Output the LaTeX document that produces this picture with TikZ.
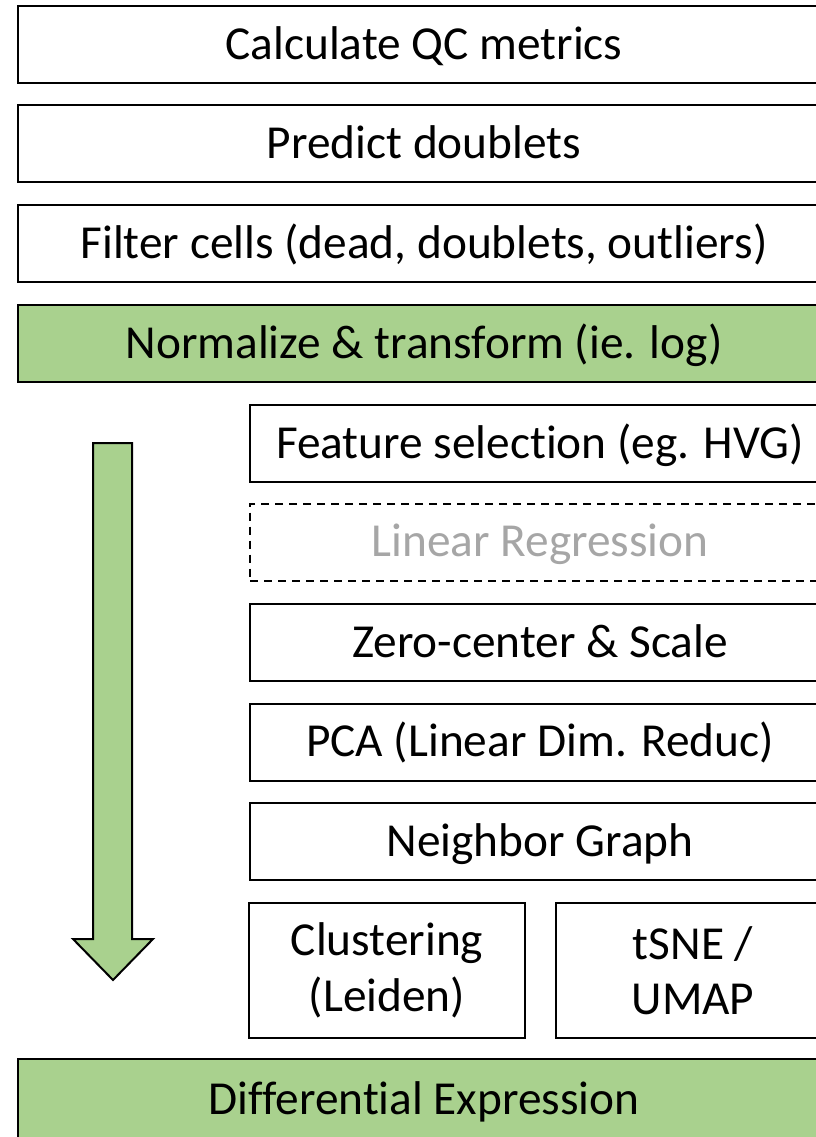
\documentclass[tikz,border=0pt]{standalone}
\usepackage{fontspec}
\setmainfont{Carlito}[Ligatures=NoCommon]
\definecolor{boxgreen}{HTML}{A9D18E}
\definecolor{softgray}{HTML}{A6A6A6}
\begin{document}
\begin{tikzpicture}[x=0.75pt,y=-0.75pt,
  basebox/.style={draw=black,line width=1.5pt,fill=white,inner sep=0pt,
    font=\fontsize{35.5}{41.6}\selectfont,align=center},
  stepbox/.style={basebox,minimum height=57.75pt,text height=26pt,text depth=4pt},
  tallbox/.style={basebox,minimum height=101.25pt},
  wide/.style={minimum width=609pt},
  right/.style={minimum width=435pt},
  greenbox/.style={stepbox,fill=boxgreen},
  optbox/.style={stepbox,dash pattern=on 6pt off 4.5pt,line width=1.5pt,text=softgray}]
\useasboundingbox (0,0) rectangle (816,1137);
\clip (0,0) rectangle (816,1137);
\node[stepbox,wide] (qc) at (424,44.5) {Calculate QC metrics};
\node[stepbox,wide] (dbl) at (424,144) {Predict doublets};
\node[stepbox,wide] (filt) at (424,244) {Filter cells (dead, doublets, outliers)};
\node[greenbox,wide] (norm) at (424,343.5) {Normalize \& transform (ie. log)};
\node[stepbox,right] (hvg) at (540,443.5) {Feature selection (eg. HVG)};
\node[optbox,right] (reg) at (540,542) {Linear Regression};
\node[stepbox,right] (scale) at (540,642.5) {Zero-center \& Scale};
\node[stepbox,right] (pca) at (540,742) {PCA (Linear Dim. Reduc)};
\node[stepbox,right] (nbr) at (540,841.5) {Neighbor Graph};
\node[tallbox,minimum width=207pt] (clu) at (387,970.5) {Clustering\\(Leiden)};
\node[tallbox,minimum width=205.5pt] (umap) at (693,970.5) {tSNE /\\UMAP};
\node[greenbox,wide,minimum height=60.75pt] (de) at (424,1099.5) {Differential Expression};
\draw[line width=1.5pt,fill=boxgreen,line join=miter]
  (93,443) -- (132,443) -- (132,939) -- (153,939) -- (113,980)
  -- (73,939) -- (93,939) -- cycle;
\end{tikzpicture}
\end{document}
